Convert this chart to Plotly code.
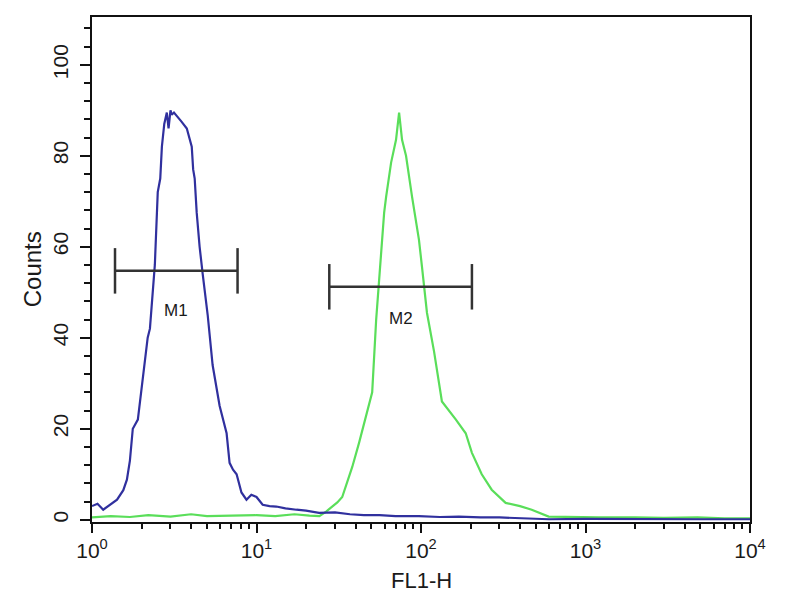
import math
import plotly.graph_objects as go

# ---- data ----
blue_x = [1.0, 1.08, 1.17, 1.28, 1.42, 1.55, 1.63, 1.70, 1.77, 1.90, 2.04, 2.18, 2.25, 2.33, 2.41,
          2.51, 2.60, 2.66, 2.75, 2.85, 2.92, 3.0, 3.05, 3.15, 3.32, 3.5, 3.77, 3.9, 4.04, 4.12,
          4.21, 4.33, 4.51, 4.71, 5.05, 5.41, 5.97, 6.58, 6.86, 7.2, 7.57, 8.1, 8.69, 9.3, 10.0,
          10.9, 12.0, 13.2, 15, 17.5, 20, 24, 30, 37, 45, 56, 70, 97, 130, 170, 230, 300, 400,
          600, 1000, 2000, 5000, 10000]
blue_y = [3.0, 3.5, 2.2, 3.2, 4.4, 6.5, 8.8, 13, 20, 22, 31, 40, 42, 50, 56,
          72, 75, 82, 87, 89.5, 86, 90, 89, 89.5, 88.6, 87.5, 86, 84, 82, 77,
          75, 67.5, 60, 54, 45, 34, 25, 19, 12.5, 11, 10, 6, 4.4, 5.5, 5.0,
          3.3, 3.0, 2.9, 2.5, 2.2, 2.0, 1.5, 1.6, 1.2, 1.0, 1.0, 0.8, 0.8, 0.6, 0.7, 0.5, 0.5, 0.3,
          0.1, 0.2, 0.1, 0.1, 0.1]

green_x = [1.0, 1.3, 1.7, 2.2, 3, 4, 5, 7, 10, 13, 17, 21, 24.1, 26.5, 28.9, 31, 33.2, 35.5,
           38.2, 42.1, 46.4, 50.5, 53.4, 57.3, 59.7, 61.4, 65.8, 70.5, 73.6, 76.7, 81.1, 88.2,
           97.2, 101.4, 108.7, 120, 134, 163, 187, 204, 234, 269, 327, 400, 471, 597, 800,
           1200, 2000, 3000, 4800, 7000, 10000]
green_y = [0.5, 0.8, 0.6, 1.0, 0.7, 1.2, 0.8, 0.9, 1.0, 0.8, 1.2, 0.9, 0.8, 1.8, 2.9, 3.8, 5.0, 8.0,
           11.6, 17, 22.6, 28, 44, 60, 67.5, 71, 78.5, 83.5, 89.5, 83.5, 80, 71,
           61.5, 55.6, 45.5, 37, 26, 22, 19, 14.7, 10, 6.6, 3.7, 3.0, 2.2, 0.7, 0.6,
           0.5, 0.5, 0.4, 0.5, 0.3, 0.3]

marker_names = ["M1", "M2"]
marker_lo = [1.38, 27.7]
marker_hi = [7.67, 204]
marker_level = [54.7, 51.2]
marker_label_y = [46.0, 44.2]

x_decades = [1, 10, 100, 1000, 10000]
x_ticktext = ["10<sup>0</sup>", "10<sup>1</sup>", "10<sup>2</sup>", "10<sup>3</sup>", "10<sup>4</sup>"]
y_ticks = [0, 20, 40, 60, 80, 100]

FONT = "Liberation Sans, Arial, sans-serif"
TXT = "#1a1a1a"

fig = go.Figure()

fig.add_trace(go.Scatter(x=green_x, y=green_y, mode="lines",
                         line=dict(color="#5ade5a", width=2.2), hoverinfo="skip"))
fig.add_trace(go.Scatter(x=blue_x, y=blue_y, mode="lines",
                         line=dict(color="#30309e", width=2.2), hoverinfo="skip"))

cap = 5
for name, lo, hi, lvl, ly in zip(marker_names, marker_lo, marker_hi, marker_level, marker_label_y):
    fig.add_trace(go.Scatter(
        x=[lo, hi, None, lo, lo, None, hi, hi],
        y=[lvl, lvl, None, lvl - cap, lvl + cap, None, lvl - cap, lvl + cap],
        mode="lines", line=dict(color="#333333", width=2.5), hoverinfo="skip"))
    # annotations on a log axis are placed in log10 units
    fig.add_annotation(x=(math.log10(lo) + math.log10(hi)) / 2, y=ly, text=name,
                       showarrow=False, font=dict(family=FONT, size=17, color=TXT))

minor_x = [m * d for d in [1, 10, 100, 1000] for m in range(2, 10)]

fig.update_xaxes(type="log", range=[0, 4], tickvals=x_decades, ticktext=x_ticktext,
                 ticks="outside", ticklen=9, tickwidth=2, tickcolor="#111",
                 showline=True, linecolor="#111", linewidth=2, mirror=True,
                 showgrid=False, zeroline=False, automargin=False,
                 tickfont=dict(family=FONT, size=21, color=TXT),
                 minor=dict(tickvals=minor_x, ticks="outside", ticklen=5, tickwidth=2,
                            tickcolor="#111", showgrid=False))
fig.update_yaxes(range=[-0.5, 110.5], tickvals=y_ticks, tickangle=-90,
                 ticks="outside", ticklen=10, tickwidth=2, tickcolor="#111",
                 showline=True, linecolor="#111", linewidth=2, mirror=True,
                 showgrid=False, zeroline=False, automargin=False, ticklabelstandoff=4,
                 tickfont=dict(family=FONT, size=21, color=TXT),
                 minor=dict(dtick=4, tick0=0, ticks="outside", ticklen=6, tickwidth=2,
                            tickcolor="#111", showgrid=False))

fig.add_annotation(xref="paper", yref="paper", x=-0.09, y=0.5, text="Counts", textangle=-90,
                   showarrow=False, xanchor="center", yanchor="middle",
                   font=dict(family=FONT, size=24, color=TXT))
fig.add_annotation(xref="paper", yref="paper", x=0.5, y=-0.115, text="FL1-H",
                   showarrow=False, xanchor="center", yanchor="middle",
                   font=dict(family=FONT, size=22, color=TXT))

fig.update_layout(width=800, height=600, showlegend=False,
                  margin=dict(l=92, r=50, t=17, b=78),
                  paper_bgcolor="white", plot_bgcolor="white")

fig.write_html("out.html", config={"displayModeBar": False},
               post_script="document.body.style.margin='0';")
